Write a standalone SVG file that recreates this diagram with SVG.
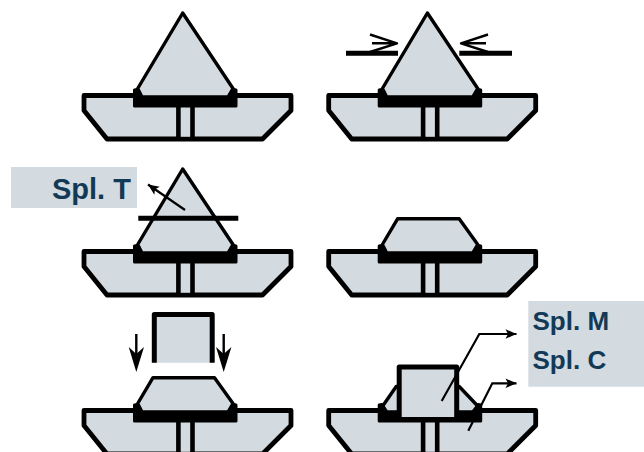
<svg xmlns="http://www.w3.org/2000/svg" xmlns:xlink="http://www.w3.org/1999/xlink" width="644" height="452" viewBox="0 0 644 452">
<style>
.f{fill:#d3dae0}
.o{fill:#d3dae0;stroke:#000;stroke-linejoin:round}
.k{fill:none;stroke:#000;stroke-linejoin:round}
.b{fill:#000;stroke:#000;stroke-linejoin:round}
.t{font-family:"Liberation Sans",Arial,sans-serif;font-weight:700;fill:#123a56}
.a{fill:none;stroke:#000;stroke-width:2.2;stroke-linejoin:miter;marker-end:url(#h)}
</style>
<defs>
<marker id="h" markerUnits="userSpaceOnUse" markerWidth="14" markerHeight="14" refX="11" refY="6" orient="auto" overflow="visible"><path d="M0 1.2L11 6L0 10.8L2.5 6Z" fill="#000"/></marker>
<g id="base">
<path class="o" stroke-width="4.8" d="M84 95.5H291V110.5L262.5 139H107L84 110.5Z"/>
<path class="f" d="M180.7 105H190.2V136.6H180.7Z"/>
<path class="k" stroke-width="4.6" d="M178.4 106V141M192.5 106V141"/>
</g>
<g id="seat">
<path class="b" stroke-width="3" d="M134.5 90L137.2 89.5L141.5 98H228.5L233.5 89.5L236 90V106H134.5Z"/>
</g>
<path id="tri" class="o" stroke-width="3.4" d="M182.7 13L137.7 88.5L142 97H228L233 88.5Z"/>
<path id="trap" class="o" stroke-width="3.4" d="M153 62.7H214.5L233 88.5L228 97H142L137.7 88.5Z"/>
</defs>

<g id="connectors">
<path class="k" stroke-width="5" d="M346 53.3H398M459.3 53.3H512"/>
<path class="k" stroke-width="2.4" d="M370 34.5L397 43.3L370 52M372 43.3H397M488 34.5L461 43.3L488 52M486 43.3H461"/>
<path class="k" stroke-width="2.4" d="M136.3 334V360M223.7 334V360"/>
<path fill="#000" d="M136.3 372L128.7 347L136.3 354L144 347ZM223.7 372L216 347L223.7 354L231.4 347Z"/>
</g>

<g id="node-a">
<use href="#base" xlink:href="#base"/><use href="#tri" xlink:href="#tri"/><use href="#seat" xlink:href="#seat"/>
</g>
<g id="node-b" transform="translate(244.7 0)">
<use href="#base" xlink:href="#base"/><use href="#tri" xlink:href="#tri"/><use href="#seat" xlink:href="#seat"/>
</g>
<g id="node-c" transform="translate(0 156)">
<use href="#base" xlink:href="#base"/><use href="#tri" xlink:href="#tri"/><use href="#seat" xlink:href="#seat"/>
</g>
<g id="label-t">
<rect x="11" y="167" width="126" height="41" class="f"/>
<text class="t" x="52" y="199" font-size="29">Spl. T</text>
</g>
<g id="cut-t">
<path class="k" stroke-width="5" d="M138.3 218.3H238.3"/>
<path class="a" d="M185 210L148 184.5"/>
</g>
<g id="node-d" transform="translate(244.7 156)">
<use href="#base" xlink:href="#base"/><use href="#trap" xlink:href="#trap"/><use href="#seat" xlink:href="#seat"/>
</g>
<g id="node-e" transform="translate(0 315)">
<use href="#base" xlink:href="#base"/><use href="#trap" xlink:href="#trap"/><use href="#seat" xlink:href="#seat"/>
</g>
<g id="punch">
<path class="f" d="M154 314H212V362.7H154Z"/>
<path class="k" stroke-width="5" d="M154.3 362.7V314.5H212.2V362.7"/>
</g>
<g id="node-f" transform="translate(244.7 315)">
<use href="#base" xlink:href="#base"/>
<path class="o" stroke-width="3.4" d="M151.5 71.5H214.5L233 91L228 97H142L138 91Z"/>
<use href="#seat" xlink:href="#seat"/>
<path class="o" stroke-width="5" d="M154.5 102V52H212V102"/>
</g>
<g id="label-mc">
<rect x="528.3" y="301" width="115.7" height="85.7" class="f"/>
<text class="t" x="532.5" y="330" font-size="26">Spl. M</text>
<text class="t" x="532.5" y="369" font-size="26">Spl. C</text>
</g>
<g id="callouts">
<path class="a" d="M441.7 401L479.3 334H516.5"/>
<path class="a" d="M468.3 430.7L492.3 383.3H516.5"/>
</g>
</svg>
